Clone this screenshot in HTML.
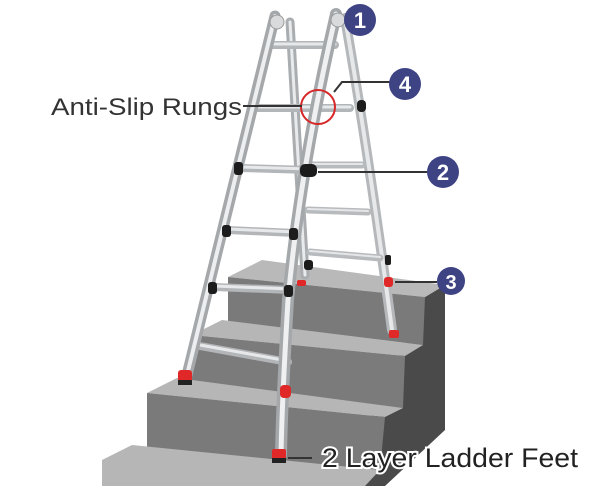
<!DOCTYPE html>
<html><head><meta charset="utf-8"><style>
html,body{margin:0;padding:0;background:#fff;width:616px;height:486px;overflow:hidden}
svg{display:block}
text{font-family:"Liberation Sans",sans-serif}
</style></head><body>
<svg width="616" height="486" viewBox="0 0 616 486" xmlns="http://www.w3.org/2000/svg">
<!-- stairs right side -->
<polygon points="425,297 445,285 445,430 385,486 340,486" fill="#4a4a4a"/>
<polygon points="228,277 262,260 445,285 425,297" fill="#b9b9b9"/>
<polygon points="228,277 425,297 423,345 228,322" fill="#7a7a7a"/>
<polygon points="192,335 222,320 423,345 405,356" fill="#b6b6b6"/>
<polygon points="192,335 405,356 403,408 192,385" fill="#7b7b7b"/>
<polygon points="147,393 177,378 403,408 385,417" fill="#b6b6b6"/>
<polygon points="147,393 385,417 380,470 147,448" fill="#7a7a7a"/>
<polygon points="102,460 132,445 380,470 365,486 102,486" fill="#b6b6b6"/>

<g stroke-linecap="round">
<!-- back rails -->
<line x1="290" y1="22" x2="305" y2="275" stroke="#a9adb0" stroke-width="9"/>
<line x1="290" y1="22" x2="305" y2="275" stroke="#e8eaec" stroke-width="3"/>
<path d="M345 18 Q368 150 392 330" fill="none" stroke="#b5b8bb" stroke-width="10"/>
<path d="M345 18 Q368 150 392 330" fill="none" stroke="#e6e8ea" stroke-width="4"/>
<!-- back rungs -->
<g stroke="#b8bbbe" stroke-width="7">
<line x1="308" y1="165" x2="362" y2="165"/>
<line x1="308" y1="210" x2="368" y2="212"/>
<line x1="310" y1="252" x2="380" y2="258"/>
</g>
<g stroke="#e4e6e8" stroke-width="2">
<line x1="308" y1="164" x2="362" y2="164"/>
<line x1="308" y1="209" x2="368" y2="211"/>
<line x1="310" y1="251" x2="380" y2="257"/>
</g>
<!-- front rungs -->
<g stroke="#b3b6b9" stroke-width="8">
<line x1="272" y1="45" x2="335" y2="45"/>
<line x1="256" y1="108" x2="350" y2="108"/>
<line x1="240" y1="168" x2="310" y2="170"/>
<line x1="228" y1="230" x2="295" y2="233"/>
<line x1="214" y1="287" x2="291" y2="290"/>
<line x1="200" y1="346" x2="288" y2="362"/>
</g>
<g stroke="#e6e8ea" stroke-width="3">
<line x1="272" y1="44" x2="335" y2="44"/>
<line x1="256" y1="107" x2="350" y2="107"/>
<line x1="240" y1="167" x2="310" y2="169"/>
<line x1="228" y1="229" x2="295" y2="232"/>
<line x1="214" y1="286" x2="291" y2="289"/>
<line x1="200" y1="345" x2="288" y2="361"/>
</g>
<!-- front rails -->
<line x1="275" y1="16" x2="187" y2="375" stroke="#a4a8ab" stroke-width="11"/>
<line x1="275" y1="16" x2="187" y2="375" stroke="#eceef0" stroke-width="4"/>
<path d="M336 14 Q300 170 288 300 Q282 400 281 455" fill="none" stroke="#a4a8ab" stroke-width="12"/>
<path d="M336 14 Q300 170 288 300 Q282 400 281 455" fill="none" stroke="#eef0f2" stroke-width="5"/>
</g>
<circle cx="277" cy="22" r="7" fill="#d8dadc" stroke="#999" stroke-width="1"/>
<circle cx="338" cy="20" r="7" fill="#d8dadc" stroke="#999" stroke-width="1"/>
<g fill="#1c1c1c">
<rect x="234" y="162" width="9" height="13" rx="3"/>
<rect x="300" y="164" width="17" height="13" rx="5"/>
<rect x="222" y="225" width="9" height="12" rx="3"/>
<rect x="289" y="228" width="9" height="12" rx="3"/>
<rect x="208" y="282" width="9" height="12" rx="3"/>
<rect x="284" y="285" width="9" height="12" rx="3"/>
<rect x="357" y="100" width="9" height="12" rx="4"/>
<rect x="304" y="260" width="9" height="10" rx="3"/>
<rect x="385" y="255" width="6" height="10" rx="2"/>
</g>
<g fill="#e02828">
<rect x="178" y="370" width="14" height="12" rx="3"/>
<rect x="272" y="449" width="14" height="10" rx="2"/>
<rect x="280" y="385" width="11" height="13" rx="4"/>
<rect x="384" y="277" width="9" height="10" rx="3"/>
<rect x="389" y="330" width="10" height="8" rx="2"/>
<rect x="297" y="280" width="9" height="6" rx="2"/>
</g>
<rect x="178" y="380" width="14" height="5" fill="#222"/>
<rect x="272" y="458" width="14" height="5" fill="#222"/>
<circle cx="318" cy="107" r="17" fill="none" stroke="#d62828" stroke-width="2"/>
<g stroke="#333" stroke-width="2" fill="none">
<line x1="243" y1="106" x2="302" y2="106"/>
<polyline points="334,92 342,82 392,82"/>
<line x1="318" y1="172" x2="428" y2="172"/>
<line x1="395" y1="282" x2="437" y2="282"/>
<line x1="288" y1="458" x2="312" y2="458"/>
</g>
<g fill="#3e4383">
<circle cx="360" cy="20" r="16"/>
<circle cx="405" cy="84" r="16"/>
<circle cx="443" cy="172" r="16"/>
<circle cx="451" cy="281" r="14"/>
</g>
<g fill="#fff" font-weight="bold" font-size="22" text-anchor="middle">
<text x="360" y="28">1</text>
<text x="405" y="92">4</text>
<text x="443" y="180">2</text>
<text x="451" y="289" font-size="20">3</text>
</g>
<text x="51" y="115" font-size="24" fill="#333" textLength="191" lengthAdjust="spacingAndGlyphs">Anti-Slip Rungs</text>
<text x="322" y="467" font-size="27" fill="#222" stroke="#fff" stroke-width="4" paint-order="stroke" textLength="256" lengthAdjust="spacingAndGlyphs">2 Layer Ladder Feet</text>
</svg>
</body></html>
